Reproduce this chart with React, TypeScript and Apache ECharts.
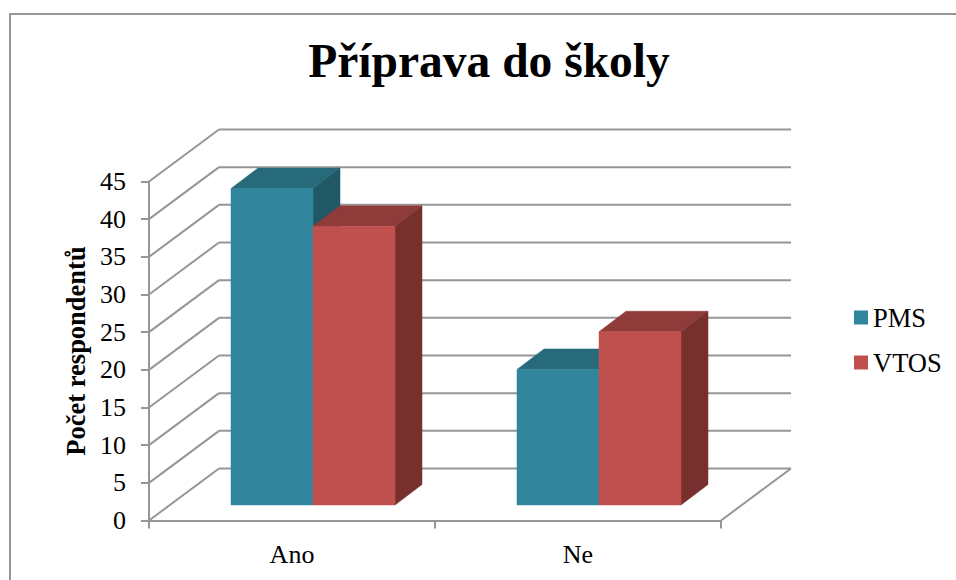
import React, { useEffect, useRef } from "react";
import * as echarts from "echarts";

const categories = ["Ano", "Ne"];
const seriesNames = ["PMS", "VTOS"];
const pmsValues = [42, 18];
const vtosValues = [37, 23];
const yTicks = [0, 5, 10, 15, 20, 25, 30, 35, 40, 45];

const FONT = '"Liberation Serif", "Times New Roman", serif';
const GRID_COLOR = "#969696";
const FRONT = ["#31859c", "#c0504d"];
const TOP = ["#276a7c", "#8e3b39"];
const SIDE = ["#205866", "#77302e"];

// oblique projection of the "3D" box
const WALL_DX = 70;
const WALL_DY = -52;
const BAR_SHIFT_X = 21;
const BAR_OFF_DY = -15.5;
const BAR_DEPTH_DX = 27;
const BAR_DEPTH_DY = -20.5;
const BAR_WIDTH = 82;

function wallRender(_p: any, api: any) {
  const v = api.value(0);
  const [x0, y0] = api.coord([0, v]);
  const size = api.size([1, 0]);
  const right = x0 - size[0] / 2 + size[0] * 2;
  const left = x0 - size[0] / 2;
  const line = (x1: number, y1: number, x2: number, y2: number) => ({
    type: "line",
    shape: { x1, y1, x2, y2 },
    style: { stroke: GRID_COLOR, lineWidth: 2 },
  });
  const children: any[] = [
    line(left, y0, left + WALL_DX, y0 + WALL_DY),
    line(left + WALL_DX, y0 + WALL_DY, right + WALL_DX, y0 + WALL_DY),
  ];
  if (v === 0) {
    children.push(line(right, y0, right + WALL_DX, y0 + WALL_DY));
  }
  return { type: "group", children };
}

function barRender(seriesIndex: number) {
  return (_p: any, api: any) => {
    const cat = api.value(0);
    const val = api.value(1);
    const [cx, y0] = api.coord([cat, 0]);
    const [, yTop] = api.coord([cat, val]);
    const l = cx + (seriesIndex === 0 ? -BAR_WIDTH : 0) + BAR_SHIFT_X;
    const r = l + BAR_WIDTH;
    const b = y0 + BAR_OFF_DY;
    const t = yTop + BAR_OFF_DY;
    const dx = BAR_DEPTH_DX;
    const dy = BAR_DEPTH_DY;
    const poly = (points: number[][], fill: string) => ({
      type: "polygon",
      shape: { points },
      style: { fill, stroke: fill, lineWidth: 0.5 },
    });
    return {
      type: "group",
      children: [
        poly([[l, t], [r, t], [r + dx, t + dy], [l + dx, t + dy]], TOP[seriesIndex]),
        poly([[r, t], [r + dx, t + dy], [r + dx, b + dy], [r, b]], SIDE[seriesIndex]),
        poly([[l, t], [r, t], [r, b], [l, b]], FRONT[seriesIndex]),
      ],
    };
  };
}

export default function App() {
  const ref = useRef<HTMLDivElement>(null);
  useEffect(() => {
    const chart = echarts.init(ref.current!, undefined, { renderer: "svg" });
    const barSeries = [pmsValues, vtosValues].map((vals, i) => ({
      name: seriesNames[i],
      type: "custom",
      renderItem: barRender(i),
      data: vals.map((v, j) => [j, v]),
      encode: { x: 0, y: 1 },
      z: 5,
      itemStyle: { color: FRONT[i] },
      silent: true,
    }));
    chart.setOption({
      animation: false,
      backgroundColor: "#ffffff",
      title: {
        text: "Příprava do školy",
        left: 484,
        top: 32,
        textAlign: "center",
        textStyle: { fontFamily: FONT, fontSize: 47.5, fontWeight: "bold", color: "#000" },
      },
      legend: {
        data: seriesNames.map((name, i) => ({
          name,
          icon: "rect",
          itemStyle: { color: FRONT[i] },
        })),
        orient: "vertical",
        left: 849,
        top: 299,
        itemWidth: 14,
        itemHeight: 14,
        itemGap: 18,
        textStyle: { fontFamily: FONT, fontSize: 26.5, color: "#000" },
      },
      grid: { left: 149, width: 572, top: 181.5, height: 339 },
      xAxis: {
        type: "category",
        data: categories,
        boundaryGap: true,
        axisLine: { lineStyle: { color: GRID_COLOR, width: 2 } },
        axisTick: { show: true, length: 8, lineStyle: { color: GRID_COLOR, width: 2 } },
        axisLabel: { fontFamily: FONT, fontSize: 26, color: "#000", margin: 21 },
      },
      yAxis: {
        type: "value",
        min: 0,
        max: 45,
        interval: 5,
        name: "Počet respondentů",
        nameLocation: "middle",
        nameGap: 59,
        nameTextStyle: { fontFamily: FONT, fontSize: 26.5, fontWeight: "bold", color: "#000" },
        axisLine: { show: true, lineStyle: { color: GRID_COLOR, width: 2 } },
        axisTick: { show: true, length: 8, lineStyle: { color: GRID_COLOR, width: 2 } },
        axisLabel: { fontFamily: FONT, fontSize: 26, color: "#000", margin: 23, padding: [4, 0, 0, 0] },
        splitLine: { show: false },
      },
      graphic: [
        {
          type: "polyline",
          shape: { points: [[10, 580], [10, 14], [956, 14]] },
          style: { stroke: "#969696", lineWidth: 2, fill: "none" },
          silent: true,
        },
      ],
      series: [
        {
          type: "custom",
          renderItem: wallRender,
          data: yTicks.map((t) => [t]),
          encode: { y: 0 },
          z: 1,
          silent: true,
        },
        ...barSeries,
      ],
    });
    return () => chart.dispose();
  }, []);
  return (
    <div
      ref={ref}
      style={{ position: "fixed", left: 0, top: 0, width: 956, height: 580 }}
    />
  );
}
